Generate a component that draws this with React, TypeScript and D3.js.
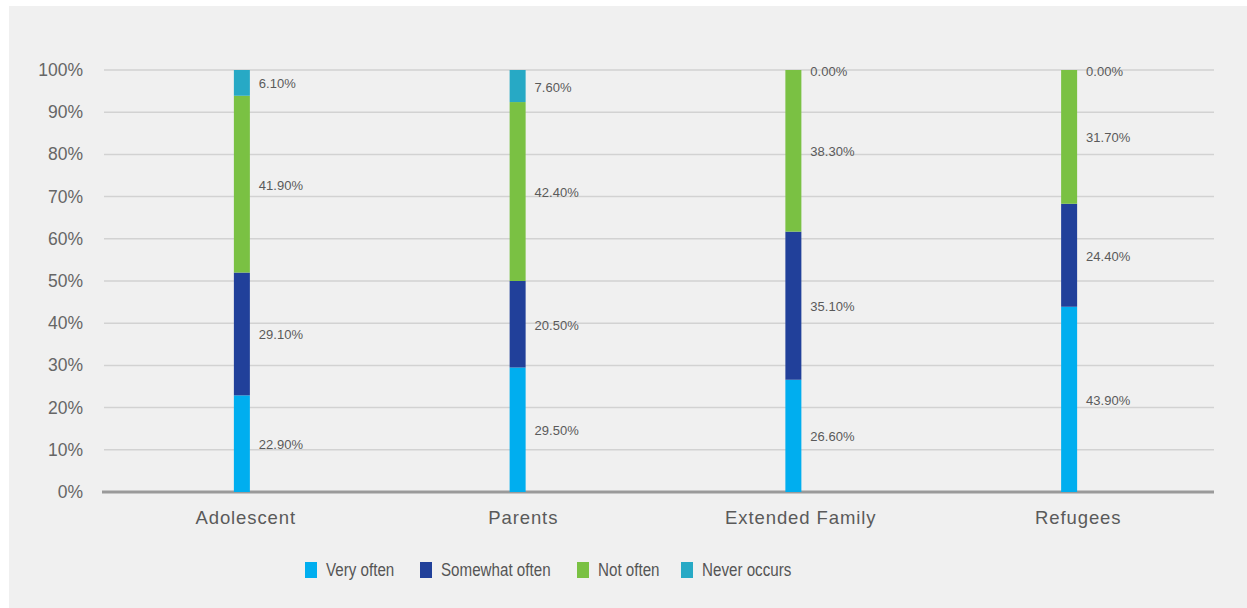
import React from "react";
import * as d3 from "d3";

const categories = ["Adolescent", "Parents", "Extended Family", "Refugees"];
const seriesNames = ["Very often", "Somewhat often", "Not often", "Never occurs"];
const veryOften = [22.9, 29.5, 26.6, 43.9];
const somewhatOften = [29.1, 20.5, 35.1, 24.4];
const notOften = [41.9, 42.4, 38.3, 31.7];
const neverOccurs = [6.1, 7.6, 0.0, 0.0];
const yTicks = [0, 10, 20, 30, 40, 50, 60, 70, 80, 90, 100];

const colors = ["#00AEEF", "#21409A", "#7AC143", "#27A9C5"];
const legendX = [305, 420, 577, 681];

export default function App() {
  const W = 1247, H = 608;
  const left = 104, right = 1214, top = 70, bottom = 492;
  const y = d3.scaleLinear().domain([0, 100]).range([bottom, top]);
  const x = d3.scaleBand<string>().domain(categories).range([left, 1207]).paddingInner(0.942).paddingOuter(0.471);
  const xl = d3.scaleBand<string>().domain(categories).range([left, right]);
  const rows = categories.map((c, i) => ({
    cat: c,
    "Very often": veryOften[i],
    "Somewhat often": somewhatOften[i],
    "Not often": notOften[i],
    "Never occurs": neverOccurs[i],
  }));
  const stacked = d3.stack<any>().keys(seriesNames)(rows);
  const font = "'Liberation Sans', Arial, Helvetica, sans-serif";
  return (
    <svg width={W} height={H} style={{ position: "absolute", left: 0, top: 0 }}>
      <rect x={0} y={0} width={W} height={H} fill="#ffffff" />
      <rect x={9} y={6} width={W - 9} height={H - 6} fill="#f0f0f0" />
      {yTicks.filter((t) => t > 0).map((t) => (
        <line key={t} x1={left} x2={right} y1={y(t)} y2={y(t)} stroke="#d2d2d2" strokeWidth={1.5} />
      ))}
      <line x1={102} x2={right} y1={y(0)} y2={y(0)} stroke="#9a9a9a" strokeWidth={3} />
      {yTicks.map((t) => (
        <text key={t} x={83} y={y(t)} textAnchor="end" dominantBaseline="central" fontFamily={font} fontSize={17.5} fill="#666">
          {t}%
        </text>
      ))}
      {stacked.map((s, si) =>
        s.map((d: any, i: number) => (
          <rect key={si + "-" + i} x={x(categories[i])} width={x.bandwidth()} y={y(d[1])} height={y(d[0]) - y(d[1])} fill={colors[si]} />
        ))
      )}
      {stacked.map((s, si) =>
        s.map((d: any, i: number) => (
          <text key={"l" + si + "-" + i} x={(x(categories[i]) as number) + x.bandwidth() + 9} y={(y(d[0]) + y(d[1])) / 2 + 1}
            dominantBaseline="central" fontFamily={font} fontSize={13} fill="#5a5a5a">
            {(d[1] - d[0]).toFixed(2)}%
          </text>
        ))
      )}
      {categories.map((c) => (
        <text key={c} x={(xl(c) as number) + xl.bandwidth() / 2 + 3} y={517} textAnchor="middle" dominantBaseline="central"
          fontFamily={font} fontSize={18.5} letterSpacing={0.9} fill="#5a5a5a">
          {c}
        </text>
      ))}
      {seriesNames.map((n, i) => (
        <g key={n}>
          <rect x={legendX[i]} y={562} width={12} height={16} fill={colors[i]} />
          <text transform={`translate(${legendX[i] + 21},570) scale(0.82,1)`} dominantBaseline="central" fontFamily={font} fontSize={18.5} fill="#555">
            {n}
          </text>
        </g>
      ))}
    </svg>
  );
}
